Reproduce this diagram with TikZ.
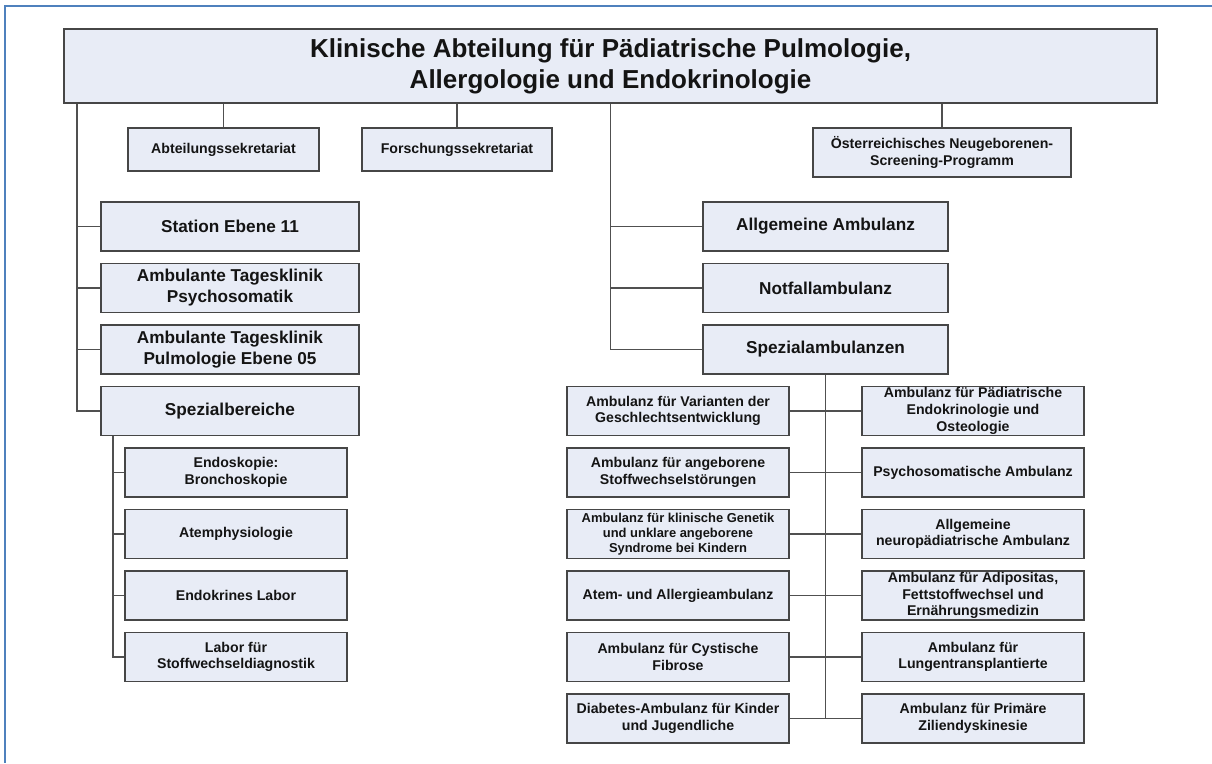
\documentclass[tikz,border=0pt]{standalone}
\usepackage{fontspec}
\setmainfont{Liberation Sans}
\usetikzlibrary{positioning, calc}
\definecolor{boxfill}{RGB}{232,236,246}
\definecolor{boxline}{RGB}{70,70,70}
\definecolor{linkgray}{RGB}{80,80,80}
\definecolor{frameblue}{RGB}{79,129,189}
\definecolor{textblack}{RGB}{20,20,20}

\begin{document}
\begin{tikzpicture}[x=0.75pt, y=-0.75pt,
    unit/.style={draw=boxline, fill=boxfill, line width=1pt, align=center, inner sep=1pt, text=textblack, minimum height=36.75pt},
    mainunit/.style={unit, font=\bfseries\fontsize{12.9}{15.75}\selectfont},
    subunit/.style={unit, font=\bfseries\fontsize{10.6}{12.5}\selectfont},
    link/.style={draw=linkgray, line width=1pt}]
\useasboundingbox (0,0) rectangle (1212,763);

% Frame
\draw[frameblue, line width=1.5pt] (1212,6) -- (5,6) -- (5,763);

% Head of department
\node[unit, minimum width=819.75pt, minimum height=55.5pt, font=\bfseries\fontsize{19.5}{23.25}\selectfont] (title) at (610.5,66) {Klinische Abteilung für Pädiatrische Pulmologie,\\Allergologie und Endokrinologie};

% Secretariats and screening
\node[subunit, minimum width=143.25pt, minimum height=32.25pt] (abt) at (223.5,149.5) {Abteilungssekretariat};
\node[subunit, minimum width=142.5pt, minimum height=32.25pt] (fsk) at (457,149.5) {Forschungssekretariat};
\node[subunit, minimum width=193.5pt] (oenb) at (942,152.5) {Österreichisches Neugeborenen-\\Screening-Programm};

% Left side - wards and day clinics
\node[mainunit, minimum width=193.5pt] (stat) at (230,226.5) {Station Ebene 11};
\node[mainunit, minimum width=193.5pt] (psy) at (230,288) {Ambulante Tagesklinik\\Psychosomatik};
\node[mainunit, minimum width=193.5pt] (pul) at (230,349.5) {Ambulante Tagesklinik\\Pulmologie Ebene 05};
\node[mainunit, minimum width=193.5pt] (spb) at (230,411) {Spezialbereiche};

% Special areas
\node[subunit, minimum width=166.5pt] (endo) at (236,472.5) {Endoskopie:\\Bronchoskopie};
\node[subunit, minimum width=166.5pt] (atem) at (236,534) {Atemphysiologie};
\node[subunit, minimum width=166.5pt] (endl) at (236,595.5) {Endokrines Labor};
\node[subunit, minimum width=166.5pt] (lab) at (236,657) {Labor für\\Stoffwechseldiagnostik};

% Right side - outpatient clinics
\node[mainunit, minimum width=183.75pt] (allg) at (825.5,226.5) {Allgemeine Ambulanz};
\node[mainunit, minimum width=183.75pt] (notf) at (825.5,288) {Notfallambulanz};
\node[mainunit, minimum width=183.75pt] (spa) at (825.5,349.5) {Spezialambulanzen};

% Special outpatient clinics, left column
\node[subunit, minimum width=166.5pt] (la1) at (678,411) {Ambulanz für Varianten der\\Geschlechtsentwicklung};
\node[subunit, minimum width=166.5pt] (la2) at (678,472.5) {Ambulanz für angeborene\\Stoffwechselstörungen};
\node[subunit, minimum width=166.5pt, font=\bfseries\fontsize{9.7}{11.25}\selectfont] (la3) at (678,534) {Ambulanz für klinische Genetik\\und unklare angeborene\\Syndrome bei Kindern};
\node[subunit, minimum width=166.5pt] (la4) at (678,595.5) {Atem- und Allergieambulanz};
\node[subunit, minimum width=166.5pt] (la5) at (678,657) {Ambulanz für Cystische\\Fibrose};
\node[subunit, minimum width=166.5pt] (la6) at (678,718.5) {Diabetes-Ambulanz für Kinder\\und Jugendliche};

% Special outpatient clinics, right column
\node[subunit, minimum width=166.5pt] (ra1) at (973,411) {Ambulanz für Pädiatrische\\Endokrinologie und\\Osteologie};
\node[subunit, minimum width=166.5pt] (ra2) at (973,472.5) {Psychosomatische Ambulanz};
\node[subunit, minimum width=166.5pt] (ra3) at (973,534) {Allgemeine\\neuropädiatrische Ambulanz};
\node[subunit, minimum width=166.5pt] (ra4) at (973,595.5) {Ambulanz für Adipositas,\\Fettstoffwechsel und\\Ernährungsmedizin};
\node[subunit, minimum width=166.5pt] (ra5) at (973,657) {Ambulanz für\\Lungentransplantierte};
\node[subunit, minimum width=166.5pt] (ra6) at (973,718.5) {Ambulanz für Primäre\\Ziliendyskinesie};

% Connectors from the head
\foreach \n in {abt,fsk,oenb}
    \draw[link] (\n.north) -- (\n.north |- title.south);
\coordinate (trunkL) at (77,0);
\draw[link] (title.south -| trunkL) |- (spb.west);
\foreach \n in {stat,psy,pul}
    \draw[link] (\n.west) -- (\n.west -| trunkL);
\draw[link] (title.south) |- (spa.west);
\foreach \n in {allg,notf}
    \draw[link] (\n.west) -- (\n.west -| title.south);

% Connectors below Spezialbereiche
\coordinate (trunkS) at (113,0);
\draw[link] (spb.south -| trunkS) |- (lab.west);
\foreach \n in {endo,atem,endl}
    \draw[link] (\n.west) -- (\n.west -| trunkS);

% Connectors below Spezialambulanzen
\draw[link] (spa.south) -- (spa.south |- la6.east);
\foreach \i in {1,...,6}
    \draw[link] (la\i.east) -- (ra\i.west);
\end{tikzpicture}
\end{document}
